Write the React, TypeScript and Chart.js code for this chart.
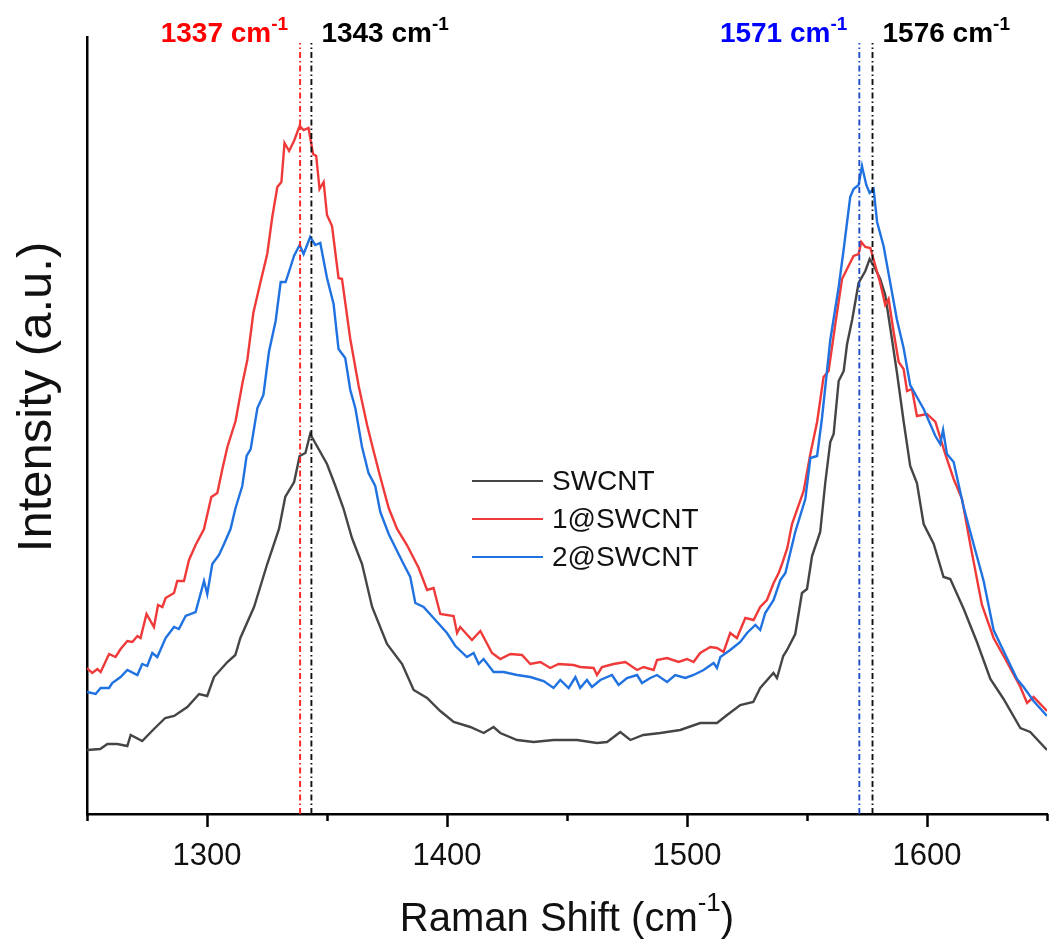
import React, { useEffect, useRef } from "react";
import { Chart, registerables } from "chart.js";

Chart.register(...registerables);

const FONT = '"Liberation Sans", Arial, Helvetica, sans-serif';

// ---------- data (Raman shift in cm-1, intensity in arbitrary units) ----------
const swcntShift = [
  1250, 1255.5, 1258.5, 1262.6, 1266.8, 1268.2, 1273.0, 1277.9, 1282.6, 1286.3, 1291.8, 1296.7,
  1300.1, 1302.9, 1308.5, 1311.8, 1313.9, 1319.6, 1325.1, 1330.0, 1332.6, 1336.3, 1338.6, 1341.0,
  1343.0, 1345.1, 1350.0, 1353.5, 1356.8, 1360.4, 1364.6, 1368.8, 1375.0, 1381.3, 1386.1, 1391.7,
  1397.2, 1402.8, 1409.7, 1415.3, 1419.4, 1422.2, 1429.2, 1436.1, 1444.4, 1454.2, 1462.5, 1466.7,
  1472.2, 1476.4, 1481.8, 1488.9, 1497.2, 1505.5, 1512.5, 1516.7, 1522.2, 1527.6, 1530.5, 1536.0,
  1537.5, 1540.1, 1541.7, 1545.1, 1547.9, 1550.0, 1552.1, 1555.5, 1557.6, 1559.7, 1561.1, 1563.2,
  1565.3, 1566.7, 1568.8, 1571.5, 1574.3, 1576.1, 1578.5, 1580.5, 1582.6, 1584.7, 1587.5, 1590.3,
  1593.0, 1595.8, 1598.6, 1602.8, 1606.9, 1609.7, 1615.3, 1620.8, 1626.4, 1631.9, 1638.9, 1643.0,
  1650,
];
const swcntIntensity = [
  64, 65, 70, 70, 68, 79, 73, 85, 96, 98, 107, 120,
  118, 137, 152, 159, 176, 207, 250, 285, 317, 332, 358, 361,
  380, 371, 350, 328, 306, 276, 250, 207, 170, 150, 124, 116,
  103, 92, 87, 81, 87, 81, 74, 72, 74, 74, 71, 72,
  82, 74, 79, 81, 84, 91, 91, 99, 109, 112, 126, 141,
  136, 158, 164, 180, 221, 225, 258, 282, 331, 372, 380, 433,
  443, 470, 494, 531, 543, 555, 545, 535, 519, 486, 441, 392,
  348, 331, 290, 270, 237, 235, 205, 172, 135, 115, 86, 82,
  64,
];

const oneShift = [
  1250, 1252.2, 1254.3, 1255.7, 1259.2, 1261.9, 1264.0, 1266.8, 1268.9, 1271.0, 1272.3, 1274.8,
  1277.9, 1279.6, 1281.4, 1282.75, 1286.25, 1287.6, 1290.4, 1292.5, 1295.25, 1298.75, 1301.8, 1304.3,
  1306.4, 1308.5, 1311.9, 1314.7, 1316.8, 1319.3, 1322.3, 1325.1, 1327.2, 1329.3, 1331.0, 1332.3,
  1334.2, 1336.25, 1338.6, 1340.25, 1342.3, 1344.2, 1345.5, 1346.9, 1348.6, 1350.0, 1352.1, 1354.8,
  1356.25, 1359.7, 1363.2, 1366.7, 1369.4, 1372.2, 1375.7, 1379.2, 1383.3, 1388.2, 1391.7, 1394.4,
  1397.2, 1402.75, 1404.2, 1405.5, 1410.4, 1413.9, 1418.75, 1422.2, 1426.4, 1431.25, 1434.7, 1438.9,
  1443.0, 1446.5, 1452.75, 1455.5, 1461.1, 1462.5, 1464.6, 1469.4, 1474.3, 1479.2, 1481.9, 1486.1,
  1487.5, 1491.7, 1496.5, 1500.0, 1502.75, 1505.5, 1509.7, 1512.5, 1515.25, 1518.0, 1520.8, 1524.3,
  1527.75, 1530.5, 1533.3, 1536.1, 1538.2, 1539.6, 1541.8, 1543.75, 1548.6, 1551.4, 1554.2, 1556.9,
  1559.0, 1561.8, 1564.6, 1567.3, 1569.4, 1571.5, 1572.6, 1574.3, 1576.4, 1578.5, 1580.5, 1582.6,
  1584.0, 1586.1, 1588.2, 1590.25, 1591.7, 1593.75, 1595.8, 1600.0, 1603.5, 1607.6, 1611.1, 1614.6,
  1618.0, 1622.9, 1627.75, 1633.3, 1638.9, 1641.7, 1644.4, 1650,
];
const oneIntensity = [
  146, 141, 145, 142, 160, 157, 165, 173, 172, 178, 176, 200,
  187, 209, 207, 216, 221, 233, 233, 254, 269, 285, 317, 321,
  345, 367, 393, 430, 454, 501, 532, 560, 597, 627, 632, 671,
  663, 673, 688, 684, 686, 660, 658, 625, 632, 599, 588, 536,
  535, 475, 428, 389, 363, 337, 306, 285, 269, 246, 224, 226,
  200, 198, 181, 187, 174, 183, 161, 155, 160, 159, 150, 152,
  146, 150, 149, 147, 146, 139, 147, 150, 152, 144, 147, 144,
  154, 156, 152, 155, 152, 161, 167, 166, 162, 181, 176, 196,
  194, 207, 214, 231, 241, 250, 266, 290, 323, 360, 392, 437,
  443, 490, 535, 548, 558, 560, 572, 567, 566, 548, 531, 509,
  515, 482, 452, 445, 423, 425, 398, 400, 392, 360, 335, 315,
  270, 209, 176, 152, 127, 111, 117, 103,
];

const twoShift = [
  1250, 1253.6, 1255.7, 1259.2, 1260.5, 1264.0, 1266.8, 1271.0, 1273.0, 1275.1, 1277.2, 1279.3,
  1282.75, 1286.25, 1288.3, 1291.1, 1295.25, 1298.75, 1300.1, 1302.2, 1305.0, 1307.1, 1309.8, 1311.9,
  1314.7, 1316.5, 1318.2, 1321.0, 1323.5, 1325.8, 1328.6, 1330.7, 1332.75, 1334.8, 1336.25, 1338.6,
  1340.25, 1343.0, 1345.1, 1347.2, 1350.0, 1352.75, 1354.8, 1357.6, 1359.7, 1361.8, 1364.6, 1367.3,
  1370.1, 1372.2, 1375.7, 1379.2, 1381.9, 1384.7, 1386.8, 1390.25, 1394.4, 1400.0, 1403.5, 1408.3,
  1411.1, 1413.2, 1415.25, 1419.4, 1423.6, 1429.2, 1434.7, 1440.25, 1444.4, 1447.2, 1450.7, 1453.5,
  1455.5, 1458.3, 1460.4, 1463.9, 1468.75, 1471.5, 1475.0, 1479.2, 1481.25, 1484.7, 1487.5, 1491.7,
  1495.1, 1499.3, 1502.75, 1506.9, 1511.1, 1512.5, 1513.9, 1518.0, 1522.2, 1525.0, 1528.5, 1530.5,
  1532.6, 1536.1, 1538.9, 1541.0, 1545.1, 1549.3, 1551.4, 1554.2, 1556.25, 1559.7, 1563.2, 1565.25,
  1568.0, 1569.4, 1571.5, 1572.9, 1574.7, 1576.1, 1577.75, 1579.2, 1581.9, 1584.7, 1587.5, 1590.25,
  1593.0, 1595.8, 1598.6, 1603.5, 1605.5, 1606.7, 1608.3, 1611.1, 1615.25, 1619.4, 1623.6, 1627.75,
  1633.3, 1637.5, 1640.25, 1644.4, 1650,
];
const twoIntensity = [
  122, 120, 126, 126, 131, 137, 144, 139, 150, 148, 161, 157,
  176, 187, 185, 198, 202, 233, 220, 250, 259, 270, 285, 306,
  328, 358, 365, 406, 419, 462, 493, 532, 532, 547, 558, 569,
  560, 577, 569, 571, 536, 510, 465, 456, 424, 406, 367, 341,
  328, 302, 280, 263, 250, 237, 211, 207, 196, 181, 168, 157,
  161, 150, 155, 142, 142, 139, 137, 133, 126, 134, 126, 137,
  126, 134, 127, 134, 139, 129, 136, 139, 131, 136, 139, 132,
  139, 136, 139, 144, 151, 146, 157, 164, 172, 181, 189, 184,
  201, 214, 234, 241, 282, 315, 356, 358, 396, 474, 527, 564,
  617, 625, 629, 648, 629, 621, 625, 592, 568, 531, 494, 466,
  429, 417, 405, 378, 370, 384, 360, 352, 307, 270, 233, 184,
  156, 135, 127, 113, 98,
];

const seriesLabels = ["SWCNT", "1@SWCNT", "2@SWCNT"];
const seriesColors = ["#454545", "#f03a3a", "#1f72e0"];

const peakShift = [1338.8, 1343.5, 1571.8, 1577.3];
const peakLabels = ["1337", "1343", "1571", "1576"];
const peakLineColors = ["#ff2020", "#111111", "#1f4fc8", "#111111"];
const peakTextColors = ["#ff0000", "#000000", "#0000ff", "#000000"];
const peakSides = ["left", "right", "left", "right"];
const peakTop = 771;

const xMin = 1250;
const xMax = 1650;
const majorTicks = [1300, 1400, 1500, 1600];
const minorTicks = [1250, 1350, 1450, 1550, 1650];
const yMax = 777;

const xTitle = ["Raman Shift (cm", "-1", ")"];
const yTitle = "Intensity (a.u.)";

function zip(xs: number[], ys: number[]) {
  return xs.map((x, i) => ({ x, y: ys[i] }));
}

function drawSup(
  ctx: CanvasRenderingContext2D,
  x: number,
  y: number,
  parts: string[],
  font: string,
  supFont: string,
  rise: number,
  measureOnly = false
) {
  let cx = x;
  parts.forEach((p, i) => {
    const isSup = i === 1;
    ctx.font = isSup ? supFont : font;
    if (!measureOnly) ctx.fillText(p, cx, isSup ? y - rise : y);
    cx += ctx.measureText(p).width;
  });
  return cx - x;
}

const overlayPlugin = {
  id: "overlay",
  afterDraw(chart: any) {
    const ctx: CanvasRenderingContext2D = chart.ctx;
    const xs = chart.scales.x;
    const { left, right, bottom } = chart.chartArea;
    ctx.save();

    // tick marks
    ctx.strokeStyle = "#000";
    ctx.lineWidth = 2.5;
    const drawTick = (v: number, len: number) => {
      const px = Math.round(xs.getPixelForValue(v)) + 0.5;
      ctx.beginPath();
      ctx.moveTo(px, bottom);
      ctx.lineTo(px, bottom + len);
      ctx.stroke();
    };
    majorTicks.forEach((v) => drawTick(v, 13));
    minorTicks.forEach((v) => drawTick(v, 7));

    // peak labels
    ctx.textBaseline = "alphabetic";
    ctx.textAlign = "left";
    const pFont = `bold 28px ${FONT}`;
    const pSup = `bold 19px ${FONT}`;
    peakShift.forEach((v, i) => {
      const px = xs.getPixelForValue(v);
      const parts = [peakLabels[i] + " cm", "-1", ""];
      const w = drawSup(ctx, 0, 0, parts, pFont, pSup, 12, true);
      const startX = peakSides[i] === "left" ? px - 12 - w : px + 10;
      ctx.fillStyle = peakTextColors[i];
      drawSup(ctx, startX, 42, parts, pFont, pSup, 12);
    });

    // legend
    const legX = 472;
    const legY = 481;
    const rowH = 38;
    ctx.font = `28px ${FONT}`;
    ctx.textBaseline = "middle";
    seriesLabels.forEach((lab, i) => {
      const y = legY + i * rowH;
      ctx.strokeStyle = seriesColors[i];
      ctx.lineWidth = 2;
      ctx.beginPath();
      ctx.moveTo(legX, y);
      ctx.lineTo(legX + 71, y);
      ctx.stroke();
      ctx.fillStyle = "#111";
      ctx.fillText(lab, legX + 80, y + 1);
    });

    // x title
    ctx.textBaseline = "alphabetic";
    ctx.fillStyle = "#111";
    const tFont = `40px ${FONT}`;
    const tSup = `26px ${FONT}`;
    const tw = drawSup(ctx, 0, 0, xTitle, tFont, tSup, 20, true);
    drawSup(ctx, (left + right) / 2 - tw / 2, 931, xTitle, tFont, tSup, 20);

    // y title
    ctx.save();
    ctx.translate(51, 397);
    ctx.rotate(-Math.PI / 2);
    ctx.font = `49px ${FONT}`;
    ctx.textAlign = "center";
    ctx.fillText(yTitle, 0, 0);
    ctx.restore();

    ctx.restore();
  },
};

export default function App() {
  const canvasRef = useRef<HTMLCanvasElement | null>(null);

  useEffect(() => {
    if (!canvasRef.current) return;
    Chart.defaults.font.family = FONT;

    const peakDatasets = peakShift.map((v, i) => ({
      label: "_peak" + i,
      data: [
        { x: v, y: 0 },
        { x: v, y: peakTop },
      ],
      borderColor: peakLineColors[i],
      borderWidth: 1.9,
      borderDash: [6, 3, 1.5, 3],
      pointRadius: 0,
      order: 0,
    }));

    const seriesData = [
      zip(swcntShift, swcntIntensity),
      zip(oneShift, oneIntensity),
      zip(twoShift, twoIntensity),
    ];
    const curveDatasets = seriesData.map((d, i) => ({
      label: seriesLabels[i],
      data: d,
      borderColor: seriesColors[i],
      backgroundColor: seriesColors[i],
      borderWidth: 2.4,
      pointRadius: 0,
      tension: 0,
      order: 3 - i,
    }));

    const chart = new Chart(canvasRef.current, {
      type: "line",
      data: { datasets: [...peakDatasets, ...curveDatasets] as any },
      options: {
        responsive: false,
        animation: false,
        devicePixelRatio: 1,
        layout: { padding: { top: 37, right: 5, left: 0, bottom: 0 } },
        plugins: {
          legend: { display: false },
          tooltip: { enabled: false },
        },
        scales: {
          x: {
            type: "linear",
            min: xMin,
            max: xMax,
            afterFit: (s: any) => {
              s.height = 129;
            },
            afterBuildTicks: (s: any) => {
              s.ticks = majorTicks.map((v) => ({ value: v }));
            },
            grid: { display: false, drawTicks: false },
            border: { display: true, color: "#000", width: 2.5 },
            ticks: {
              color: "#111",
              font: { size: 31, family: FONT },
              padding: 24,
              maxRotation: 0,
              autoSkip: false,
              callback: (v: any) => String(v),
            },
          },
          y: {
            type: "linear",
            min: 0,
            max: yMax,
            afterFit: (s: any) => {
              s.width = 87;
            },
            grid: { display: false, drawTicks: false },
            border: { display: true, color: "#000", width: 2.5 },
            ticks: { display: false },
          },
        },
      },
      plugins: [overlayPlugin],
    });

    return () => chart.destroy();
  }, []);

  return (
    <div style={{ position: "absolute", left: 0, top: 0, width: 1052, height: 943, background: "#fff" }}>
      <canvas ref={canvasRef} width={1052} height={943} style={{ display: "block" }} />
    </div>
  );
}
